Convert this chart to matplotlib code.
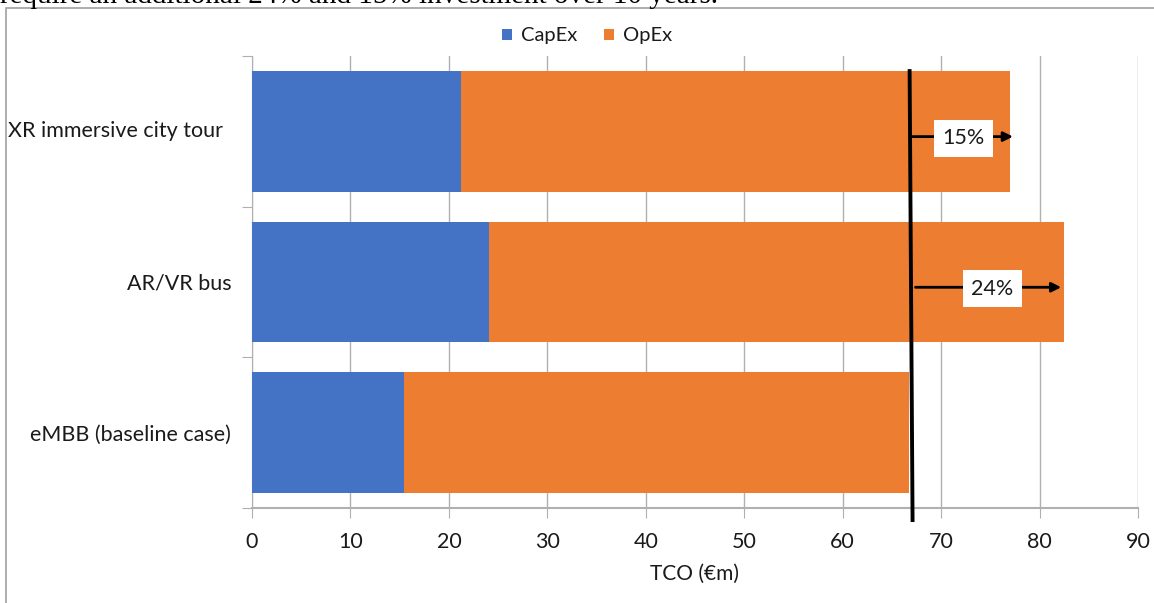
import matplotlib.pyplot as plt
from matplotlib.patches import Rectangle
import matplotlib.transforms as mtransforms
import numpy as np

# TCO per scenario, split into capital and operating expenditure (EUR m)
scenarios = ["eMBB (baseline case)", "AR/VR bus", "XR immersive city tour"]
capex = [15.4, 24.1, 21.2]
opex = [51.3, 58.4, 55.8]
uplift_labels = ["", "24%", "15%"]

W, H = 1154, 603
plt.rcParams['font.family'] = ['Lato', 'DejaVu Sans']
TXT = "#1a1a1a"

fig = plt.figure(figsize=(W / 100, H / 100), dpi=100)
ax = fig.add_axes([252 / W, (H - 508) / H, 886 / W, 452 / H])

y = np.arange(len(scenarios))
totals = np.array(capex) + np.array(opex)
cap_bars = ax.barh(y, capex, height=0.8, color="#4472C4", label="CapEx", zorder=3)
op_bars = ax.barh(y, opex, left=capex, height=0.8, color="#ED7D31", label="OpEx", zorder=3)

ax.set_xlim(0, 90)
ax.set_ylim(-0.5, len(scenarios) - 0.5)
ax.set_xticks(np.arange(0, 91, 10))
ax.grid(axis="x", color="#b0b0b0", lw=1, zorder=0)

# category boundaries get the tick marks, centres get the labels
ax.set_yticks(np.arange(-0.5, len(scenarios), 1.0))
ax.set_yticklabels([])
ax.set_yticks(y, minor=True)
# the long label does not fit right-aligned, so it is drawn from the left edge
ax.set_yticklabels([s if not s.startswith("XR") else "" for s in scenarios], minor=True)
ax.tick_params(axis="y", which="major", length=7, color="#b0b0b0", direction="out")
ax.tick_params(axis="y", which="minor", length=0, pad=15, labelsize=15.5, labelcolor=TXT)
ax.tick_params(axis="x", length=7, color="#b0b0b0", pad=10, labelsize=15.5, labelcolor=TXT)
blend = mtransforms.blended_transform_factory(fig.transFigure, ax.transData)
for i, s in enumerate(scenarios):
    if s.startswith("XR"):
        ax.text(8 / W, y[i], s, transform=blend, ha="left", va="center",
                fontsize=15.5, color=TXT)
ax.set_xlabel("TCO (€m)", fontsize=15, color=TXT, labelpad=9)

for side in ["top", "right"]:
    ax.spines[side].set_visible(False)
ax.spines["bottom"].set_color("#b0b0b0")
ax.spines["bottom"].set_linewidth(1.5)
ax.spines["left"].set_color("#b0b0b0")

# baseline reference line at the eMBB total
base = totals[0]
ax.plot([base + 0.1, base + 0.4], [len(scenarios) - 0.6, -0.58], color="black",
        lw=2.8, zorder=5, clip_on=False)

# uplift arrows relative to baseline
for i in range(1, len(scenarios)):
    start = base + 0.4 if i == 2 else base + 0.7
    end = totals[i] + 0.3 if i == 2 else totals[i] - 0.3
    ax.annotate("", xy=(end, y[i] - 0.035), xytext=(start, y[i] - 0.035),
                arrowprops=dict(arrowstyle="-|>", color="black", lw=2,
                                mutation_scale=14, shrinkA=0, shrinkB=0), zorder=6)
    mid = base + (totals[i] - base) * 0.54
    ax.text(mid, y[i] - 0.045, uplift_labels[i], ha="center", va="center",
            fontsize=15.5, color=TXT, zorder=7,
            bbox=dict(facecolor="white", edgecolor="none", pad=6))

fig.legend(handles=[cap_bars, op_bars], loc="center", bbox_to_anchor=(587 / W, 1 - 36 / H),
           ncol=2, frameon=False, fontsize=14.5, handlelength=0.5, handleheight=0.5,
           handletextpad=0.45, columnspacing=1.3, labelcolor=TXT)

# chart area frame and the tail of the preceding sentence
fig.add_artist(Rectangle((6 / W, -0.1), 1.2, 1.1 - 8 / H, transform=fig.transFigure,
                         fill=False, edgecolor="#a0a0a0", lw=1.2))
fig.text(0.0, 1 - 3 / H, "require an additional 24% and 15% investment over 10 years.",
         family="Liberation Serif", fontsize=21, ha="left", va="baseline", color="black")

fig.savefig("out.png", dpi=100)
